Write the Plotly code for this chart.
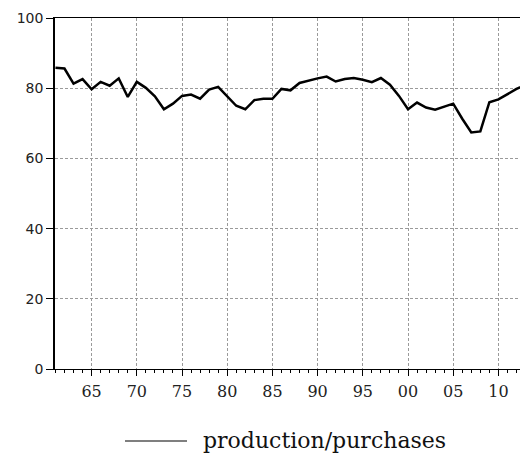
import plotly.graph_objects as go

# Annual ratio of production to purchases, 1961-2013
years = list(range(1961, 2014))
ratio = [
    85.8, 85.6, 81.3, 82.6, 79.7, 81.8, 80.7, 82.8, 77.5, 81.8,
    80.1, 77.7, 74.0, 75.6, 77.8, 78.2, 77.0, 79.6, 80.4, 77.8,
    75.0, 74.0, 76.6, 77.0, 77.0, 79.8, 79.4, 81.5, 82.2, 82.8,
    83.3, 81.9, 82.6, 82.9, 82.4, 81.7, 82.9, 81.0, 77.8, 74.0,
    75.9, 74.5, 73.9, 74.8, 75.6, 71.3, 67.4, 67.7, 76.0, 76.8,
    78.3, 79.8, 81.0,
]
x_tick_vals = [1965, 1970, 1975, 1980, 1985, 1990, 1995, 2000, 2005, 2010]
x_tick_text = ["65", "70", "75", "80", "85", "90", "95", "00", "05", "10"]
y_tick_vals = [0, 20, 40, 60, 80, 100]
series_name = "production/purchases"

W, H = 520, 461
ML, MR, MT, MB = 55, 0, 18, 92
PW, PH = W - ML - MR, H - MT - MB

fig = go.Figure()
fig.add_trace(go.Scatter(
    x=years, y=ratio, mode="lines", name=series_name,
    line=dict(color="black", width=2.5), showlegend=False,
))

grid = dict(showgrid=True, gridcolor="#9a9a9a", gridwidth=1, griddash="3px,2px")

fig.update_layout(
    width=W, height=H,
    margin=dict(l=ML, r=MR, t=MT, b=MB),
    paper_bgcolor="white", plot_bgcolor="white",
    xaxis=dict(
        range=[1960.95, 1960.95 + PW / 9.04],
        tickvals=x_tick_vals, ticktext=x_tick_text,
        ticks="outside", ticklen=6, tickwidth=1, tickcolor="black",
        minor=dict(dtick=1, tick0=1961, ticks="outside", ticklen=3,
                   tickcolor="black", showgrid=False),
        showline=True, linecolor="black", linewidth=1.2, mirror=True,
        zeroline=False, ticklabelstandoff=2,
        tickfont=dict(family="DejaVu Serif", size=16, color="#222"),
        **grid,
    ),
    yaxis=dict(
        range=[0, 100], tickvals=y_tick_vals,
        ticks="outside", ticklen=7, tickwidth=1, tickcolor="black",
        showline=True, linecolor="black", linewidth=1.5,
        zeroline=False,
        tickfont=dict(family="DejaVu Sans", size=14, color="#222"),
        **grid,
    ),
)

# Legend drawn below the axis: a short line sample and the series name
def px_x(p):
    return (p - ML) / PW

def px_y(p):
    return (H - MB - p) / PH

fig.add_shape(type="line", xref="paper", yref="paper",
              x0=px_x(125), x1=px_x(187), y0=px_y(441), y1=px_y(441),
              line=dict(color="black", width=1.2))
fig.add_annotation(text=series_name, xref="paper", yref="paper",
                   x=px_x(201), y=px_y(440), xanchor="left", yanchor="middle",
                   showarrow=False,
                   font=dict(family="DejaVu Serif", size=22, color="#111"))

fig.write_html("out.html")
